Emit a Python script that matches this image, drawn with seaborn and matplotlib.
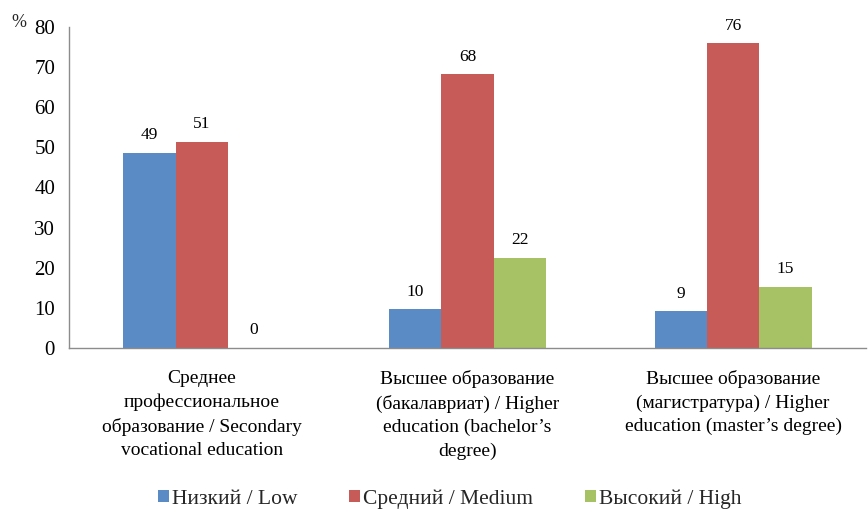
import matplotlib
matplotlib.use('Agg')
import matplotlib.pyplot as plt
import seaborn as sns
import pandas as pd

# ----------------- data -----------------
categories = [
    'Среднее\nпрофессиональное\nобразование / Secondary\nvocational education',
    'Высшее образование\n(бакалавриат) / Higher\neducation (bachelor’s\ndegree)',
    'Высшее образование\n(магистратура) / Higher\neducation (master’s degree)',
]
levels = ['Низкий / Low', 'Средний / Medium', 'Высокий / High']
low = [48.6, 9.6, 9.1]
medium = [51.4, 68.2, 75.9]
high = [0.0, 22.4, 15.3]

colors = ['#5b8bc5', '#c65b58', '#a6c264']
AXIS_COLOR = '#8c8c8c'

sns.set_theme(style='white')
plt.rcParams['font.family'] = ['Liberation Serif', 'DejaVu Serif']

df = pd.DataFrame({
    'category': categories * 3,
    'level': [lv for lv in levels for _ in categories],
    'value': low + medium + high,
})

fig, ax = plt.subplots(figsize=(8.68, 5.14), dpi=100)
fig.subplots_adjust(left=0.0795, right=0.9977, top=0.9475, bottom=0.323)

sns.barplot(data=df, x='category', y='value', hue='level', order=categories,
            hue_order=levels, palette=colors, width=0.59, saturation=1,
            linewidth=0, ax=ax)

for cont in ax.containers:
    ax.bar_label(cont, fmt='%.0f', padding=7, fontsize=12.5, color='#000000')

ax.set_ylim(0, 80)
ax.set_xlim(-0.5, 2.5)
ax.set_yticks(range(0, 81, 10))
ax.set_xlabel('')
ax.set_ylabel('')
ax.tick_params(axis='y', labelsize=15, length=0, pad=10, colors='#000000')
ax.tick_params(axis='x', labelsize=14, length=0, pad=16, colors='#000000')
for lab in ax.get_xticklabels():
    lab.set_linespacing(1.47)

for side in ['top', 'right']:
    ax.spines[side].set_visible(False)
for side in ['left', 'bottom']:
    ax.spines[side].set_color(AXIS_COLOR)
    ax.spines[side].set_linewidth(1)

fig.text(0.013, 0.957, '%', fontsize=13, ha='left', va='center')

ax.legend(loc='center', bbox_to_anchor=(0.518, 0.029), bbox_transform=fig.transFigure,
          ncol=3, frameon=False, fontsize=15.5, handlelength=0.5, handleheight=0.5,
          handletextpad=0.15, columnspacing=2.4)

fig.savefig('out.png', dpi=100)
